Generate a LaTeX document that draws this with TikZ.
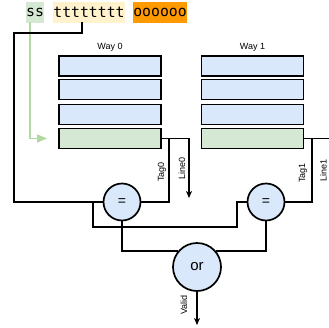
\documentclass[tikz,border=0pt]{standalone}
\usepackage{fontspec}
\setmainfont{Liberation Sans}
\newfontfamily\monofont{DejaVu Sans Mono}
\usetikzlibrary{arrows.meta}
\definecolor{blueFill}{HTML}{DAE8FC}
\definecolor{greenFill}{HTML}{D5E8D4}
\definecolor{yellowFill}{HTML}{FFF2CC}
\definecolor{orangeFill}{HTML}{FF9900}
\definecolor{greenLine}{HTML}{B3D9A0}
\tikzset{
  field/.style={inner sep=0pt, minimum height=21pt, font=\monofont\fontsize{14.8}{14.8}\selectfont},
  cell/.style={draw=black, line width=1.8pt, minimum width=102pt, minimum height=20pt, inner sep=0pt},
  tagcell/.style={cell, fill=blueFill},
  linecell/.style={cell, fill=greenFill},
  cmp/.style={circle, draw=black, line width=1.7pt, fill=blueFill, minimum size=37pt, inner sep=0pt, font=\fontsize{14}{14}\selectfont},
  orgate/.style={cmp, minimum size=48pt, font=\fontsize{15}{15}\selectfont},
  wire/.style={draw=black, line width=1.7pt},
  arr/.style={wire, -{Stealth[length=7pt,width=6pt,inset=2pt]}},
  lbl/.style={font=\fontsize{9}{9}\selectfont, inner sep=0pt},
  vlbl/.style={lbl, rotate=90}
}
\begin{document}
\begin{tikzpicture}[x=1pt,y=-1pt]
\useasboundingbox (0,0) rectangle (329,327);

% address fields
\node[field, fill=greenFill, minimum width=18pt] (ss) at (35,12) {ss};
\node[field, fill=yellowFill, minimum width=72pt] (tt) at (89,12) {tttttttt};
\node[field, fill=orangeFill, minimum width=54pt] (oo) at (160,12) {oooooo};

% way 0
\node[lbl] (way0) at (110,47) {Way 0};
\node[tagcell] (a1) at (110,66) {};
\node[tagcell] (a2) at (110,89.5) {};
\node[tagcell] (a3) at (110,114.5) {};
\node[linecell] (a4) at (110,138.5) {};

% way 1
\node[lbl] (way1) at (252.5,47) {Way 1};
\node[tagcell] (b1) at (252.5,66) {};
\node[tagcell] (b2) at (252.5,89.5) {};
\node[tagcell] (b3) at (252.5,114.5) {};
\node[linecell] (b4) at (252.5,138.5) {};

% comparators and or gate
\node[cmp] (eq0) at (122,202) {=};
\node[cmp] (eq1) at (266,202) {=};
\node[orgate] (orc) at (197,267) {or};

% set index selects the line
\coordinate (setsrc) at (30,22);
\draw[greenLine, line width=1.5pt, -{Triangle[length=10pt,width=8pt]}, shorten >=11pt] (setsrc) |- (a4.west);

% tag bits to both comparators
\coordinate (tagsrc) at (82,22);
\coordinate (tagleft) at (14,33);
\draw[wire] (tagsrc) |- (tagleft) |- (eq0.west);
\coordinate (tagsplit) at (93,202);
\coordinate (tagjog) at (237,227);
\draw[wire] (tagsplit) |- (tagjog) |- (eq1.west);

% way 0 outputs
\coordinate (line0end) at (189,198);
\draw[arr] (a4.east) -| (line0end);
\coordinate (tag0tap) at (169,138.5);
\draw[wire] (tag0tap) |- (eq0.east);
\node[vlbl] (tag0) at (162,172) {Tag0};
\node[vlbl] (line0) at (182,168) {Line0};

% way 1 outputs
\coordinate (line1end) at (345,138.5);
\draw[wire] (b4.east) -- (line1end);
\coordinate (tag1tap) at (312,138.5);
\draw[wire] (tag1tap) |- (eq1.east);
\node[vlbl] (tag1) at (303,173) {Tag1};
\node[vlbl] (line1) at (323.5,170) {Line1};

% hit logic
\draw[wire] (eq0.south) |- (orc.139);
\draw[wire] (eq1.south) |- (orc.41);
\coordinate (validend) at (197,325);
\draw[arr] (orc.south) -- (validend);
\node[vlbl] (valid) at (184,305) {Valid};
\end{tikzpicture}
\end{document}
